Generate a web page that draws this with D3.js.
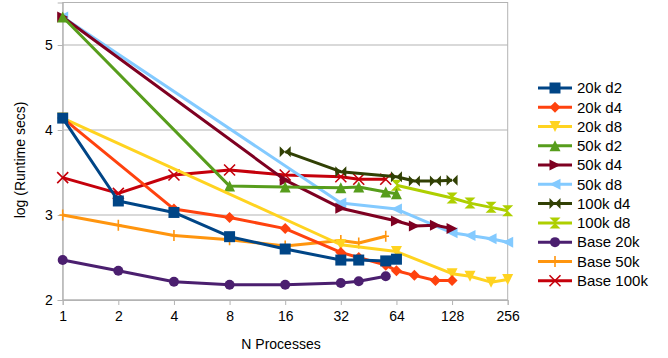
<!DOCTYPE html>
<html>
<head>
<meta charset="utf-8">
<script src="https://cdn.jsdelivr.net/npm/d3@7"></script>
<style>
  body { margin: 0; background: #fff; }
  text { font-family: "Liberation Sans", Arial, sans-serif; fill: #000; }
</style>
</head>
<body>
<svg id="chart" width="668" height="358"></svg>
<script>
// Data (x = processes, y = log runtime)
const seriesNames = ['20k d2', '20k d4', '20k d8', '50k d2', '50k d4', '50k d8',
    '100k d4', '100k d8', 'Base 20k', 'Base 50k', 'Base 100k'];
const seriesColors = ['#004586', '#ff420e', '#ffd320', '#579d1c', '#7e0021', '#83caff',
    '#314004', '#aecf00', '#4b1f6f', '#ff950e', '#c5000b'];
const seriesMarkers = ['square', 'diamond', 'down', 'up', 'right', 'left',
    'bowtie', 'hourglass', 'circle', 'plus', 'cross'];

const procs20kd2 = [1, 2, 4, 8, 16, 32, 40, 56, 64];
const time20kd2 = [4.14, 3.165, 3.03, 2.745, 2.60, 2.47, 2.47, 2.46, 2.48];
const procs20kd4 = [1, 4, 8, 16, 32, 40, 56, 64, 80, 104, 128];
const time20kd4 = [4.14, 3.07, 2.97, 2.84, 2.56, 2.50, 2.41, 2.345, 2.29, 2.23, 2.23];
const procs20kd8 = [1, 32, 64, 128, 160, 208, 256];
const time20kd8 = [4.14, 2.65, 2.57, 2.31, 2.28, 2.21, 2.24];
const procs50kd2 = [1, 8, 16, 32, 40, 56, 64];
const time50kd2 = [5.33, 3.34, 3.33, 3.32, 3.33, 3.27, 3.25];
const procs50kd4 = [1, 16, 32, 64, 80, 104, 128];
const time50kd4 = [5.33, 3.41, 3.08, 2.93, 2.87, 2.88, 2.84];
const procs50kd8 = [1, 32, 64, 128, 160, 208, 256];
const time50kd8 = [5.33, 3.14, 3.07, 2.79, 2.76, 2.72, 2.68];
const procs100kd4 = [16, 32, 64, 80, 104, 128];
const time100kd4 = [3.745, 3.51, 3.45, 3.40, 3.40, 3.41];
const procs100kd8 = [64, 128, 160, 208, 256];
const time100kd8 = [3.35, 3.20, 3.14, 3.09, 3.05];
const procsBase = [1, 2, 4, 8, 16, 32, 40, 56];
const timeBase20k = [2.47, 2.345, 2.215, 2.18, 2.18, 2.20, 2.22, 2.28];
const timeBase50k = [3.0, 2.88, 2.76, 2.71, 2.635, 2.70, 2.67, 2.75];
const timeBase100k = [3.44, 3.255, 3.47, 3.53, 3.47, 3.45, 3.42, 3.42];

const xTicks = [1, 2, 4, 8, 16, 32, 64, 128, 256];
const yTicks = [2, 3, 4, 5];

const allProcs = [procs20kd2, procs20kd4, procs20kd8, procs50kd2, procs50kd4, procs50kd8,
    procs100kd4, procs100kd8, procsBase, procsBase, procsBase];
const allTimes = [time20kd2, time20kd4, time20kd8, time50kd2, time50kd4, time50kd8,
    time100kd4, time100kd8, timeBase20k, timeBase50k, timeBase100k];

const series = seriesNames.map((name, i) => ({
    name: name,
    color: seriesColors[i],
    marker: seriesMarkers[i],
    points: allProcs[i].map((p, j) => ({ x: p, y: allTimes[i][j] }))
}));

const svg = d3.select('#chart');
const plot = { left: 62.7, right: 507.7, top: 2.5, bottom: 300 };

const x = d3.scaleLog().base(2).domain([1, 256]).range([plot.left, plot.right]);
const y = d3.scaleLinear().domain([2, 5.5]).range([plot.bottom, plot.top]);

// Grid + frame
const grid = svg.append('g');
grid.selectAll('line.h')
    .data(yTicks)
    .enter()
    .append('line')
    .attr('x1', plot.left).attr('x2', plot.right)
    .attr('y1', d => y(d)).attr('y2', d => y(d))
    .attr('stroke', '#b3b3b3').attr('stroke-width', 1);
grid.append('rect')
    .attr('x', plot.left).attr('y', plot.top)
    .attr('width', plot.right - plot.left).attr('height', plot.bottom - plot.top)
    .attr('fill', 'none').attr('stroke', '#b3b3b3').attr('stroke-width', 1);

// Axes
const xAxis = svg.append('g')
    .attr('transform', `translate(0,${plot.bottom})`)
    .call(d3.axisBottom(x).tickValues(xTicks).tickFormat(d3.format('d')).tickSize(5).tickPadding(6));
const yAxis = svg.append('g')
    .attr('transform', `translate(${plot.left},0)`)
    .call(d3.axisLeft(y).tickValues(yTicks).tickFormat(d3.format('d')).tickSize(5).tickPadding(5));
[xAxis, yAxis].forEach(a => {
    a.select('.domain').attr('stroke', '#b3b3b3');
    a.selectAll('.tick line').attr('stroke', '#b3b3b3');
    a.selectAll('.tick text').attr('font-size', 14).attr('font-family', '"Liberation Sans", Arial, sans-serif').attr('fill', '#000');
});

svg.append('text')
    .attr('x', 281).attr('y', 349)
    .attr('text-anchor', 'middle')
    .attr('font-size', 14)
    .text('N Processes');
svg.append('text')
    .attr('transform', 'translate(25,160) rotate(-90)')
    .attr('text-anchor', 'middle')
    .attr('font-size', 14)
    .text('log (Runtime secs)');

// Marker shapes
function markerPath(kind, s) {
    const h = s / 2;
    switch (kind) {
        case 'square': return `M${-h},${-h}H${h}V${h}H${-h}Z`;
        case 'diamond': return `M0,${-h}L${h},0L0,${h}L${-h},0Z`;
        case 'up': return `M0,${-h}L${h},${h}L${-h},${h}Z`;
        case 'down': return `M0,${h}L${h},${-h}L${-h},${-h}Z`;
        case 'right': return `M${h},0L${-h},${-h}L${-h},${h}Z`;
        case 'left': return `M${-h},0L${h},${-h}L${h},${h}Z`;
        case 'bowtie': return `M${-h},${-h}L0,0L${-h},${h}Z M${h},${-h}L0,0L${h},${h}Z`;
        case 'hourglass': return `M${-h},${-h}L0,0L${h},${-h}Z M${-h},${h}L0,0L${h},${h}Z`;
        case 'circle': return d3.symbol().type(d3.symbolCircle).size(Math.PI * h * h)();
        case 'plus': return `M0,${-h}V${h}M${-h * 0.6},0H${h * 0.6}`;
        case 'cross': return `M${-h},${-h}L${h},${h}M${h},${-h}L${-h},${h}`;
    }
}
const strokeOnly = k => k === 'plus' || k === 'cross';

function drawMarker(g, kind, color) {
    g.append('path')
        .attr('d', markerPath(kind, kind === 'circle' ? 10 : 11))
        .attr('fill', strokeOnly(kind) ? 'none' : color)
        .attr('stroke', strokeOnly(kind) ? color : 'none')
        .attr('stroke-width', strokeOnly(kind) ? 1.6 : 0);
}

const line = d3.line().x(d => x(d.x)).y(d => y(d.y));

// Draw series in reverse order so the first ones end on top
const seriesG = svg.append('g')
    .selectAll('g')
    .data(series.slice().reverse())
    .enter()
    .append('g');

seriesG.append('path')
    .attr('d', d => line(d.points))
    .attr('fill', 'none')
    .attr('stroke', d => d.color)
    .attr('stroke-width', 3)
    .attr('stroke-linejoin', 'round');

seriesG.each(function (s) {
    d3.select(this).selectAll('g.m')
        .data(s.points)
        .enter()
        .append('g')
        .attr('transform', p => `translate(${x(p.x)},${y(p.y)})`)
        .each(function () { drawMarker(d3.select(this), s.marker, s.color); });
});

// Legend
const legend = svg.append('g')
    .selectAll('g')
    .data(series)
    .enter()
    .append('g')
    .attr('transform', (d, i) => `translate(538,${88 + i * 19.27})`);
legend.append('line')
    .attr('x1', 0).attr('x2', 34)
    .attr('stroke', d => d.color)
    .attr('stroke-width', 3);
legend.each(function (d) {
    const m = d3.select(this).append('g').attr('transform', 'translate(17,0)');
    drawMarker(m, d.marker, d.color);
});
legend.append('text')
    .attr('x', 39)
    .attr('dy', '0.35em')
    .attr('font-size', 15)
    .text(d => d.name);
</script>
</body>
</html>
